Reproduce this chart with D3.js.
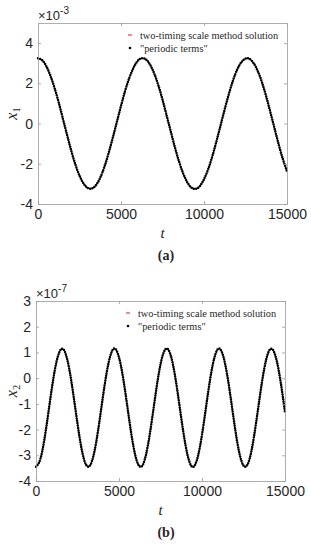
<!DOCTYPE html>
<html>
<head>
<meta charset="utf-8">
<script src="https://cdn.jsdelivr.net/npm/d3@7"></script>
<style>
  body { margin: 0; background: #fff; }
  svg text { fill: #262626; }
</style>
</head>
<body>
<div id="chart"></div>
<script>
// sample step in t for both series
const tStep = 250;
const xTicks = [0, 5000, 10000, 15000];

// x1 (units of 1e-3)
const x1Values = [
  3.25, 3.15, 2.85, 2.38, 1.76, 1.04, 0.24, -0.56, -1.34, -2.03,
  -2.59, -2.99, -3.21, -3.23, -3.05, -2.69, -2.15, -1.48, -0.72, 0.08,
  0.88, 1.63, 2.27, 2.77, 3.11, 3.25, 3.19, 2.93, 2.49, 1.90,
  1.19, 0.40, -0.40, -1.19, -1.90, -2.49, -2.93, -3.19, -3.25, -3.11,
  -2.77, -2.27, -1.63, -0.88, -0.08, 0.72, 1.48, 2.15, 2.69, 3.05,
  3.23, 3.21, 2.99, 2.59, 2.03, 1.34, 0.56, -0.24, -1.04, -1.76, -2.38
];

// x2 (units of 1e-7)
const x2Values = [
  -3.45, -3.17, -2.40, -1.32, -0.20, 0.68, 1.12, 1.01, 0.37, -0.64,
  -1.77, -2.76, -3.35, -3.40, -2.91, -1.99, -0.86, 0.19, 0.92, 1.15,
  0.81, 0.00, -1.09, -2.20, -3.05, -3.44, -3.27, -2.58, -1.55, -0.42,
  0.54, 1.08, 1.08, 0.53, -0.42, -1.55, -2.58, -3.27, -3.44, -3.05,
  -2.20, -1.09, 0.00, 0.81, 1.15, 0.92, 0.19, -0.86, -1.99, -2.91,
  -3.40, -3.35, -2.76, -1.77, -0.64, 0.37, 1.01, 1.12, 0.68, -0.20, -1.32
];

const legendLabels = ["two-timing scale method solution", "\"periodic terms\""];

const panels = [
  { values: x1Values, left: 38, right: 287, top: 23, bottom: 204,
    yDomain: [-4, 5], yTicks: [-4, -2, 0, 2, 4], exp: "-3", sub: "1", tag: "a" },
  { values: x2Values, left: 36, right: 285, top: 301, bottom: 481,
    yDomain: [-4, 3], yTicks: [-4, -3, -2, -1, 0, 1, 2, 3], exp: "-7", sub: "2", tag: "b" }
];

const svg = d3.select("#chart").append("svg")
  .attr("width", 311)
  .attr("height", 550);

const sans = "'Liberation Sans', Arial, sans-serif";
const serif = "'Liberation Serif', 'Times New Roman', serif";
const fmt = (d) => String(d);  // plain hyphen minus like the original

panels.forEach(function(p) {
  let data = p.values.map((v, i) => ({ t: i * tStep, v: v }));

  let x = d3.scaleLinear().domain([0, 15000]).range([p.left, p.right]);
  let y = d3.scaleLinear().domain(p.yDomain).range([p.bottom, p.top]);

  let g = svg.append("g");

  // curves first, box on top
  let line = d3.line()
    .x(d => x(d.t))
    .y(d => y(d.v))
    .curve(d3.curveNatural);

  g.append("path")
    .datum(data)
    .attr("d", line)
    .attr("fill", "none")
    .attr("stroke", "#e8413a")
    .attr("stroke-width", 1)
    .attr("stroke-dasharray", "3,2");

  g.append("path")
    .datum(data)
    .attr("d", line)
    .attr("fill", "none")
    .attr("stroke", "#000")
    .attr("stroke-width", 2.5)
    .attr("stroke-linecap", "round")
    .attr("stroke-dasharray", "0,2.4");

  // axes: ticks inward on all four sides
  let axes = [
    { ax: d3.axisBottom(x).tickValues(xTicks), tr: "translate(0," + p.bottom + ")", lab: true },
    { ax: d3.axisTop(x).tickValues(xTicks), tr: "translate(0," + p.top + ")", lab: false },
    { ax: d3.axisLeft(y).tickValues(p.yTicks), tr: "translate(" + p.left + ",0)", lab: true },
    { ax: d3.axisRight(y).tickValues(p.yTicks), tr: "translate(" + p.right + ",0)", lab: false }
  ];
  axes.forEach(function(a) {
    a.ax.tickSizeInner(-3).tickSizeOuter(0).tickPadding(5);
    a.ax.tickFormat(a.lab ? fmt : "");
    let ag = g.append("g").attr("transform", a.tr).call(a.ax);
    ag.select(".domain").attr("stroke", "#999").attr("stroke-width", 0.8);
    ag.selectAll(".tick line").attr("stroke", "#999").attr("stroke-width", 0.8);
    ag.selectAll(".tick text")
      .attr("font-family", sans)
      .attr("font-size", 14)
      .attr("fill", "#262626");
  });

  // exponent
  let ex = g.append("text")
    .attr("x", p.left)
    .attr("y", p.top - 3)
    .attr("font-family", sans)
    .attr("font-size", 13);
  ex.append("tspan").text("\u00d710");
  ex.append("tspan").attr("dy", -6).attr("font-size", 10).text(p.exp);

  // axis labels
  g.append("text")
    .attr("x", (p.left + p.right) / 2)
    .attr("y", p.bottom + 34)
    .attr("text-anchor", "middle")
    .attr("font-family", serif)
    .attr("font-style", "italic")
    .attr("font-size", 15)
    .text("t");

  let yl = g.append("text")
    .attr("transform", "translate(17," + (p.top + p.bottom) / 2 + ") rotate(-90)")
    .attr("text-anchor", "middle")
    .attr("font-family", serif)
    .attr("font-style", "italic")
    .attr("font-size", 16);
  yl.append("tspan").text("x");
  yl.append("tspan").attr("dy", 3).attr("font-size", 10.5).attr("font-style", "normal").text(p.sub);

  // panel tag
  g.append("text")
    .attr("x", 166)
    .attr("y", p.bottom + 56)
    .attr("text-anchor", "middle")
    .attr("font-family", serif)
    .attr("font-weight", "bold")
    .attr("font-size", 14)
    .text("(" + p.tag + ")");

  // legend
  let lx = p.left + 92;
  legendLabels.forEach(function(lab, i) {
    let ly = p.top + 12 + i * 13;
    if (i === 0) {
      g.append("line")
        .attr("x1", lx - 2).attr("x2", lx + 2)
        .attr("y1", ly).attr("y2", ly)
        .attr("stroke", "#e8413a").attr("stroke-width", 1.2);
    } else {
      g.append("circle")
        .attr("cx", lx).attr("cy", ly).attr("r", 1.3)
        .attr("fill", "#000");
    }
    g.append("text")
      .attr("x", lx + 10)
      .attr("y", ly + 3.5)
      .attr("font-family", serif)
      .attr("font-size", 10.3)
      .text(lab);
  });
});
</script>
</body>
</html>
